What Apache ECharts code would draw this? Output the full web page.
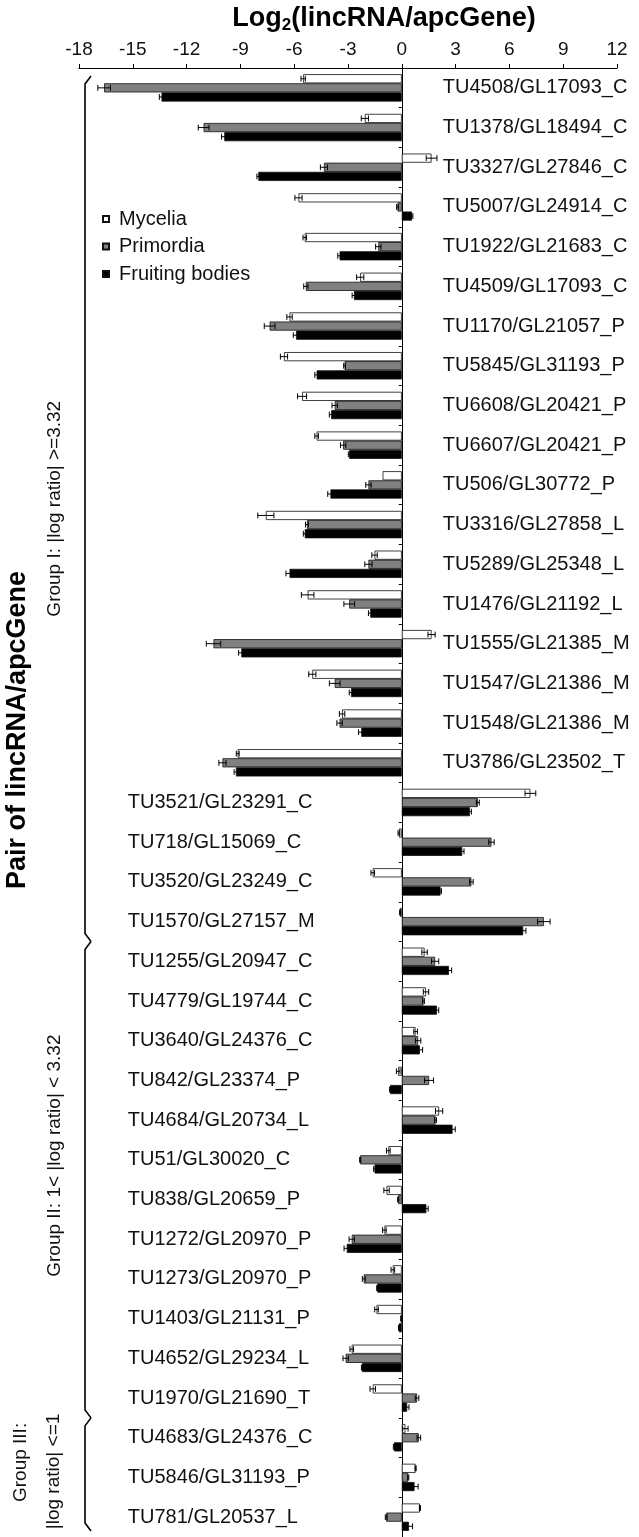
<!DOCTYPE html>
<html><head><meta charset="utf-8">
<script src="https://cdn.jsdelivr.net/npm/echarts@6/dist/echarts.min.js"></script>
<style>html,body{margin:0;padding:0;background:#fff}#c{width:639px;height:1537px}</style>
</head><body><div id="c"></div>
<script>
// ---------- data ----------
const categories = [
 'TU4508/GL17093_C','TU1378/GL18494_C','TU3327/GL27846_C','TU5007/GL24914_C','TU1922/GL21683_C',
 'TU4509/GL17093_C','TU1170/GL21057_P','TU5845/GL31193_P','TU6608/GL20421_P','TU6607/GL20421_P',
 'TU506/GL30772_P','TU3316/GL27858_L','TU5289/GL25348_L','TU1476/GL21192_L','TU1555/GL21385_M',
 'TU1547/GL21386_M','TU1548/GL21386_M','TU3786/GL23502_T','TU3521/GL23291_C','TU718/GL15069_C',
 'TU3520/GL23249_C','TU1570/GL27157_M','TU1255/GL20947_C','TU4779/GL19744_C','TU3640/GL24376_C',
 'TU842/GL23374_P','TU4684/GL20734_L','TU51/GL30020_C','TU838/GL20659_P','TU1272/GL20970_P',
 'TU1273/GL20970_P','TU1403/GL21131_P','TU4652/GL29234_L','TU1970/GL21690_T','TU4683/GL24376_C',
 'TU5846/GL31193_P','TU781/GL20537_L'
];
const mycelia = [-5.5,-2.06,1.66,-5.76,-5.41,-2.32,-6.26,-6.57,-5.56,-4.75,-1.07,-7.58,-1.52,-5.25,1.66,-4.99,-3.33,-9.15,
 7.17,-0.16,-1.62,-0.1,1.27,1.35,0.77,-0.2,2.08,-0.75,-0.85,-0.97,-0.5,-1.41,-2.79,-1.62,0.2,0.77,1.01];
const primordia = [-16.6,-11.05,-4.34,-0.24,-1.31,-5.35,-7.37,-3.19,-3.74,-3.27,-1.86,-5.29,-1.86,-2.93,-10.5,-3.74,-3.47,-10.0,
 4.24,5.0,3.88,7.92,1.86,1.21,0.91,1.52,1.88,-2.32,-0.2,-2.79,-2.12,-0.04,-3.13,0.85,0.95,0.36,-0.87];
const fruiting = [-13.4,-9.9,-8.0,0.57,-3.47,-2.67,-5.9,-4.75,-3.94,-2.93,-3.98,-5.41,-6.26,-1.76,-8.95,-2.83,-2.26,-9.25,
 3.8,3.37,2.16,6.77,2.63,1.96,1.01,-0.65,2.83,-1.52,1.37,-3.07,-1.37,-0.16,-2.22,0.3,-0.44,0.71,0.4];
const myceliaErr = [0.12,0.2,0.3,0.2,0.1,0.2,0.15,0.2,0.25,0.1,0,0.45,0.15,0.35,0.2,0.2,0.15,0.08,
 0.3,0.05,0.1,0.02,0.15,0.15,0.1,0.1,0.2,0.1,0.15,0.1,0.1,0.1,0.1,0.15,0.15,0.03,0.03];
const primordiaErr = [0.35,0.3,0.2,0.05,0.15,0.12,0.3,0.05,0.15,0.15,0.15,0.08,0.2,0.3,0.4,0.3,0.15,0.2,
 0.08,0.15,0.1,0.35,0.2,0.05,0.15,0.25,0.05,0.03,0.03,0.15,0.08,0.02,0.15,0.1,0.1,0.03,0.05];
const fruitingErr = [0.12,0.15,0.08,0.05,0.1,0.1,0.15,0.1,0.1,0.05,0.15,0.08,0.2,0.1,0.15,0.1,0.15,0.1,
 0.08,0.1,0.05,0.15,0.15,0.1,0.15,0.03,0.15,0.05,0.1,0.15,0.03,0.02,0.03,0.1,0.03,0.2,0.2];
const seriesNames = ['Mycelia','Primordia','Fruiting bodies'];
const xMin = -18, xMax = 12, xInterval = 3;
const rightLabelCount = 18;
const groupRanges = [[0,21],[22,33],[34,36]];
const groupTexts = [['Group I: |log ratio| >=3.32'],['Group II: 1< |log ratio| < 3.32'],['Group III:','|log ratio| <=1']];

// ---------- chart ----------
const FONT = "'Liberation Sans', Arial, sans-serif";
const BAR_FRAC = 0.23;
const chart = echarts.init(document.getElementById('c'), null, {renderer:'canvas'});
const colors = ['#ffffff','#808080','#000000'];
const vals = [mycelia, primordia, fruiting];
const errs = [myceliaErr, primordiaErr, fruitingErr];

function barSeries(k){
  return {type:'bar', name:seriesNames[k], data:vals[k], barWidth:(BAR_FRAC*100)+'%', barGap:'0%',
    itemStyle:{color:colors[k], borderColor:'#111', borderWidth:0.8}, z:2};
}
function errSeries(k){
  return {type:'custom', silent:true, z:5,
    encode:{x:1, y:0},
    data: vals[k].map((v,i)=>[i, v, errs[k][i]]),
    renderItem(params, api){
      const cat = api.value(0), v = api.value(1), e = api.value(2);
      if (!e) return null;
      const band = api.size([0,1])[1];
      const bw = band*BAR_FRAC;
      const y = api.coord([0, cat])[1] + (k-1)*bw;
      const x1 = api.coord([v-e, cat])[0], x2 = api.coord([v+e, cat])[0];
      const h = bw*0.32;
      const st = {stroke:'#000', lineWidth:1};
      return {type:'group', children:[
        {type:'line', shape:{x1:x1, y1:y, x2:x2, y2:y}, style:st},
        {type:'line', shape:{x1:x1, y1:y-h, x2:x1, y2:y+h}, style:st},
        {type:'line', shape:{x1:x2, y1:y-h, x2:x2, y2:y+h}, style:st}
      ]};
    }
  };
}
const labelSeries = {
  type:'custom', silent:true, z:6, encode:{x:1, y:0},
  data: categories.map((c,i)=>[i, 0]),
  renderItem(params, api){
    const i = api.value(0);
    const p = api.coord([0, i]);
    const right = i < rightLabelCount;
    return {type:'text', x: right ? p[0]+41 : p[0]-274, y: p[1],
      style:{text:categories[i], fill:'#111', font:'20px '+FONT, textAlign:'left', textVerticalAlign:'middle'}};
  }
};

chart.setOption({
  animation:false,
  backgroundColor:'#fff',
  grid:{left:79, right:22, top:68, bottom:0, containLabel:false},
  legend:{data:seriesNames, orient:'vertical', left:97, top:204, itemWidth:6, itemHeight:6, itemGap:7.5,
    icon:'rect', textStyle:{fontFamily:FONT, fontSize:20, color:'#111', lineHeight:20, padding:[0,0,0,5]}},
  xAxis:{type:'value', position:'top', min:xMin, max:xMax, interval:xInterval,
    axisLine:{show:true, lineStyle:{color:'#000', width:1}},
    axisTick:{show:true, length:4, lineStyle:{color:'#000'}},
    splitLine:{show:false},
    axisLabel:{color:'#111', fontFamily:FONT, fontSize:19, margin:9}},
  yAxis:{type:'category', inverse:true, data:categories,
    axisLine:{show:true, onZero:true, lineStyle:{color:'#000', width:1}},
    axisTick:{show:true, length:3, lineStyle:{color:'#000'}},
    axisLabel:{show:false}, splitLine:{show:false}},
  series:[barSeries(0), barSeries(1), barSeries(2), errSeries(0), errSeries(1), errSeries(2), labelSeries]
});

// ---------- annotations (positions derived from the axes) ----------
function yPix(i){ return chart.convertToPixel({gridIndex:0}, [0, i])[1]; }
const band = yPix(1) - yPix(0);
const BX = 85, TIP = 8;
const gfx = [];
gfx.push({type:'text', x:384, y:19, style:{
  text:'{a|Log}{b|2}{a|(lincRNA/apcGene)}', textAlign:'center', textVerticalAlign:'middle',
  rich:{a:{font:'bold 27px '+FONT, fill:'#000'}, b:{font:'bold 17px '+FONT, fill:'#000', padding:[12,0,0,0]}}}});
gfx.push({type:'text', x:18, y:730, rotation:Math.PI/2, style:{
  text:'Pair of lincRNA/apcGene', font:'bold 27px '+FONT, fill:'#000', textAlign:'center', textVerticalAlign:'middle'}});
const labelShift = [0, -24, 0];
groupRanges.forEach((g, gi)=>{
  let y0 = yPix(g[0]) - band/2, y1 = yPix(g[1]) + band/2;
  if (gi === 0) y0 += 8;
  if (gi === groupRanges.length-1) y1 -= 6;
  gfx.push({type:'polyline', shape:{points:[[BX+TIP-2, y0],[BX, y0+TIP],[BX, y1-TIP],[BX+TIP-2, y1]]},
    style:{stroke:'#000', lineWidth:1.6, fill:null}});
  const cy = (y0+y1)/2 + labelShift[gi];
  const lines = groupTexts[gi];
  const tst = (t)=>({text:t, font:'19px '+FONT, fill:'#111', textAlign:'center', textVerticalAlign:'middle'});
  if (lines.length === 1) {
    gfx.push({type:'text', x:55, y:cy, rotation:Math.PI/2, style:tst(lines[0])});
  } else {
    gfx.push({type:'text', x:21, y:cy-12, rotation:Math.PI/2, style:tst(lines[0])});
    gfx.push({type:'text', x:54, y:cy-3, rotation:Math.PI/2, style:tst(lines[1])});
  }
});
chart.setOption({graphic:{elements:gfx}});
</script></body></html>
